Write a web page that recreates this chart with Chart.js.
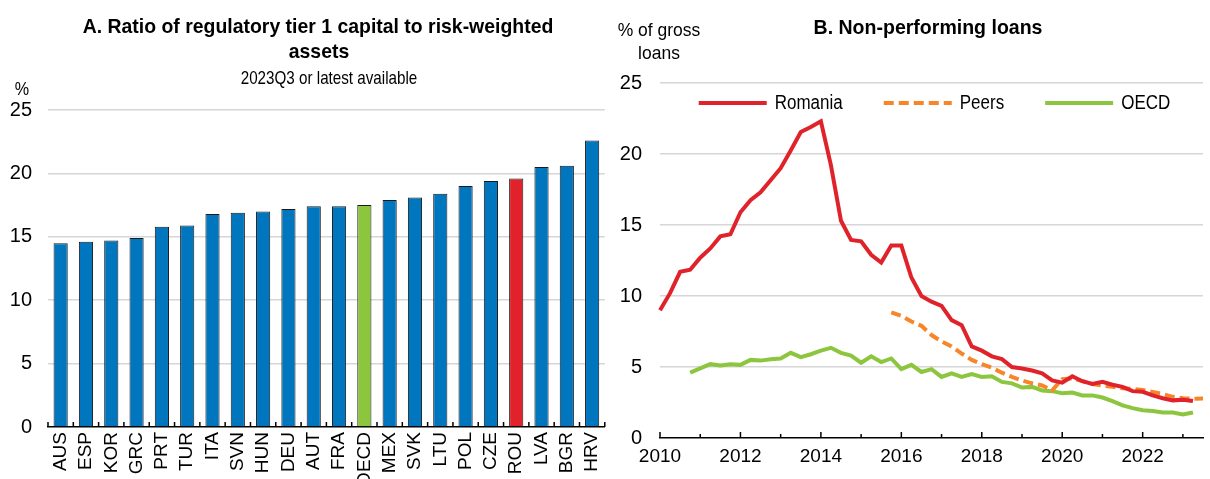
<!DOCTYPE html>
<html>
<head>
<meta charset="utf-8">
<script src="https://cdn.jsdelivr.net/npm/chart.js@4.4.1/dist/chart.umd.min.js"></script>
<style>
  body { margin: 0; background: #fff; }
  #wrap { position: relative; width: 1210px; height: 479px; }
  canvas { position: absolute; top: 0; }
  #capital { left: 0; }
  #npl { left: 605px; }
</style>
</head>
<body>
<div id="wrap">
  <canvas id="capital" width="620" height="479"></canvas>
  <canvas id="npl" width="605" height="479"></canvas>
</div>
<script>
// Panel A: tier 1 capital ratio, 2023Q3 or latest
const countries = ['AUS', 'ESP', 'KOR', 'GRC', 'PRT', 'TUR', 'ITA', 'SVN', 'HUN', 'DEU', 'AUT',
  'FRA', 'OECD', 'MEX', 'SVK', 'LTU', 'POL', 'CZE', 'ROU', 'LVA', 'BGR', 'HRV'];
const tier1Ratio = [14.5, 14.6, 14.7, 14.9, 15.8, 15.9, 16.8, 16.9, 17.0, 17.2, 17.4,
  17.4, 17.5, 17.9, 18.1, 18.4, 19.0, 19.4, 19.6, 20.5, 20.6, 22.6];
const ratioTicks = [0, 5, 10, 15, 20, 25];

// Panel B: NPL, % of gross loans, quarterly 2010Q1 - 2023Q3
const quarters = [];
for (let y = 2010; y <= 2023; y++) {
  for (let q = 1; q <= 4; q++) quarters.push(y + 'Q' + q);
}
quarters.length = 55;
const yearLabels = ['2010', '2012', '2014', '2016', '2018', '2020', '2022'];

const romania = [9.0, 10.2, 11.7, 11.85, 12.7, 13.35, 14.2, 14.35, 15.9, 16.75, 17.3, 18.15,
  19.0, 20.25, 21.55, 21.9, 22.3, 19.2, 15.3, 13.95, 13.85, 12.9, 12.35, 13.55, 13.55, 11.3,
  10.0, 9.6, 9.3, 8.3, 7.95, 6.45, 6.15, 5.75, 5.55, 5.0, 4.9, 4.75, 4.55, 4.05, 3.9, 4.35,
  4.0, 3.8, 3.95, 3.75, 3.6, 3.3, 3.25, 3.0, 2.8, 2.65, 2.7, 2.6];
const peers = [null, null, null, null, null, null, null, null, null, null, null, null,
  null, null, null, null, null, null, null, null, null, null, null, 8.85, 8.6, 8.2,
  7.9, 7.25, 6.8, 6.45, 5.95, 5.5, 5.2, 4.95, 4.6, 4.3, 4.05, 3.85, 3.7, 3.35, 4.15, 4.2,
  4.0, 3.8, 3.7, 3.6, 3.5, 3.45, 3.38, 3.25, 3.1, 2.9, 2.8, 2.77, 2.78];
const oecd = [null, null, null, 4.6, 4.9, 5.2, 5.1, 5.2, 5.15, 5.5, 5.45, 5.55,
  5.6, 6.0, 5.7, 5.9, 6.15, 6.35, 6.0, 5.8, 5.3, 5.75, 5.35, 5.6, 4.85, 5.15,
  4.65, 4.85, 4.3, 4.55, 4.3, 4.5, 4.3, 4.35, 3.95, 3.85, 3.55, 3.6, 3.35, 3.3, 3.15, 3.2,
  3.0, 3.0, 2.85, 2.6, 2.3, 2.1, 1.95, 1.9, 1.8, 1.8, 1.65, 1.8];

const blue = '#0076BE', red = '#E0232B', green = '#8CC63F', orange = '#F7862A';
const grey = '#d6d6d6';
const narrow = "'Liberation Sans Narrow', 'Arial Narrow', 'Liberation Sans', Arial, sans-serif";

Chart.defaults.font.family = narrow;
Chart.defaults.font.size = 20;
Chart.defaults.color = '#000';
Chart.defaults.animation = false;
Chart.defaults.plugins.tooltip.enabled = false;

// titles and unit labels, squeezed a little since there is no narrow font
const headers = {
  id: 'headers',
  afterDraw(chart, args, opts) {
    const ctx = chart.ctx;
    (opts.items || []).forEach(t => {
      ctx.save();
      ctx.fillStyle = '#000';
      ctx.textBaseline = 'alphabetic';
      ctx.textAlign = 'center';
      ctx.font = (t.bold ? 'bold ' : '') + t.size + 'px ' + narrow;
      ctx.translate(t.x, t.y);
      ctx.scale(t.squeeze || 1, 1);
      ctx.fillText(t.text, 0, 0);
      ctx.restore();
    });
  }
};

// small tick marks pointing up from the x axis
const upTicks = {
  id: 'upTicks',
  afterDatasetsDraw(chart, args, opts) {
    const x = chart.scales.x, ctx = chart.ctx, base = chart.chartArea.bottom;
    const marks = [];
    if (opts.mode === 'between') {
      for (let i = 0; i <= x.ticks.length; i++) marks.push([x.getPixelForValue(i - 0.5), 5]);
    } else {
      quarters.forEach((q, i) => {
        if (q.endsWith('Q1')) marks.push([x.getPixelForValue(i), +q.slice(0, 4) % 2 ? 4 : 6]);
      });
    }
    ctx.save();
    ctx.strokeStyle = '#000';
    ctx.lineWidth = 1.5;
    marks.forEach(([px, len]) => {
      ctx.beginPath();
      ctx.moveTo(px, base);
      ctx.lineTo(px, base - len);
      ctx.stroke();
    });
    ctx.restore();
  }
};

// one-row legend inside the plot, under the top gridline
const inlineLegend = {
  id: 'inlineLegend',
  afterDraw(chart, args, opts) {
    const ctx = chart.ctx, area = chart.chartArea;
    const sets = chart.data.datasets;
    ctx.save();
    ctx.font = opts.size + 'px ' + narrow;
    const widths = sets.map(d => ctx.measureText(d.label).width * opts.squeeze);
    const total = widths.reduce((a, w) => a + opts.sample + opts.gap + w, 0) + opts.spacing * (sets.length - 1);
    let x = (area.left + area.right) / 2 + opts.shift - total / 2;
    const y = area.top + opts.offset;
    sets.forEach((d, i) => {
      ctx.strokeStyle = d.borderColor;
      ctx.lineWidth = d.borderWidth;
      ctx.setLineDash(d.borderDash || []);
      ctx.beginPath();
      ctx.moveTo(x, y);
      ctx.lineTo(x + opts.sample, y);
      ctx.stroke();
      x += opts.sample + opts.gap;
      ctx.save();
      ctx.fillStyle = '#000';
      ctx.textBaseline = 'middle';
      ctx.translate(x, y);
      ctx.scale(opts.squeeze, 1);
      ctx.fillText(d.label, 0, 0);
      ctx.restore();
      x += widths[i] + opts.spacing;
    });
    ctx.restore();
  }
};

const gridColor = c => (c.tick.value === 0 ? 'rgba(0,0,0,0)' : grey);

/** bar chart **/
new Chart(document.getElementById('capital'), {
  type: 'bar',
  data: {
    labels: countries,
    datasets: [{
      data: tier1Ratio,
      backgroundColor: countries.map(c => (c === 'ROU' ? red : c === 'OECD' ? green : blue)),
      borderColor: '#1a1a1a',
      borderWidth: 1,
      barPercentage: 0.56,
      categoryPercentage: 1
    }]
  },
  options: {
    responsive: false,
    layout: { padding: { top: 110, right: 3, left: 0, bottom: 0 } },
    plugins: {
      legend: { display: false },
      upTicks: { mode: 'between' },
      headers: {
        items: [
          { text: 'A. Ratio of regulatory tier 1 capital to risk-weighted', x: 318, y: 33, size: 21, bold: true, squeeze: 0.925 },
          { text: 'assets', x: 319, y: 58, size: 21, bold: true, squeeze: 0.925 },
          { text: '2023Q3 or latest available', x: 329, y: 84, size: 19, squeeze: 0.8 },
          { text: '%', x: 22, y: 95, size: 19, squeeze: 0.85 }
        ]
      }
    },
    scales: {
      x: {
        grid: { display: false, drawTicks: false },
        border: { color: '#000', width: 1.5 },
        ticks: { autoSkip: false, minRotation: 90, maxRotation: 90, padding: 5, font: { size: 19 } },
        afterFit: s => { s.height = 52; }
      },
      y: {
        min: 0,
        max: 25,
        afterBuildTicks: s => { s.ticks = ratioTicks.map(v => ({ value: v })); },
        ticks: { padding: 16 },
        grid: { color: gridColor, lineWidth: 1.5, drawTicks: false },
        border: { display: false },
        afterFit: s => { s.width = 48; }
      }
    }
  },
  plugins: [headers, upTicks]
});

/** line chart **/
new Chart(document.getElementById('npl'), {
  type: 'line',
  data: {
    labels: quarters,
    datasets: [
      { label: 'Romania', data: romania, borderColor: red, backgroundColor: red, borderWidth: 4 },
      { label: 'Peers', data: peers, borderColor: orange, backgroundColor: orange, borderWidth: 4, borderDash: [10, 5] },
      { label: 'OECD', data: oecd, borderColor: green, backgroundColor: green, borderWidth: 4 }
    ]
  },
  options: {
    responsive: false,
    layout: { padding: { top: 83, right: 0, left: 0, bottom: 0 } },
    elements: { point: { radius: 0 }, line: { tension: 0 } },
    plugins: {
      legend: { display: false },
      inlineLegend: { size: 20, squeeze: 0.85, sample: 68, gap: 8, spacing: 41, offset: 20, shift: 3 },
      upTicks: { mode: 'years' },
      headers: {
        items: [
          { text: 'B. Non-performing loans', x: 323, y: 34, size: 21, bold: true, squeeze: 0.93 },
          { text: '% of gross', x: 54, y: 36, size: 19, squeeze: 0.92 },
          { text: 'loans', x: 54, y: 59, size: 19, squeeze: 0.92 }
        ]
      }
    },
    scales: {
      x: {
        grid: { display: false, drawTicks: false },
        border: { color: '#000', width: 1.5 },
        ticks: {
          autoSkip: false,
          maxRotation: 0,
          padding: 7,
          font: { size: 19 },
          callback: (v, i) => (yearLabels.includes(quarters[i].slice(0, 4)) && quarters[i].endsWith('Q1') ? quarters[i].slice(0, 4) : '')
        },
        afterFit: s => { s.height = 41; }
      },
      y: {
        min: 0,
        max: 25,
        afterBuildTicks: s => { s.ticks = ratioTicks.map(v => ({ value: v })); },
        ticks: { padding: 18 },
        grid: { color: gridColor, lineWidth: 1.5, drawTicks: false },
        border: { display: false },
        afterFit: s => { s.width = 55; }
      }
    }
  },
  plugins: [headers, upTicks, inlineLegend]
});
</script>
</body>
</html>
